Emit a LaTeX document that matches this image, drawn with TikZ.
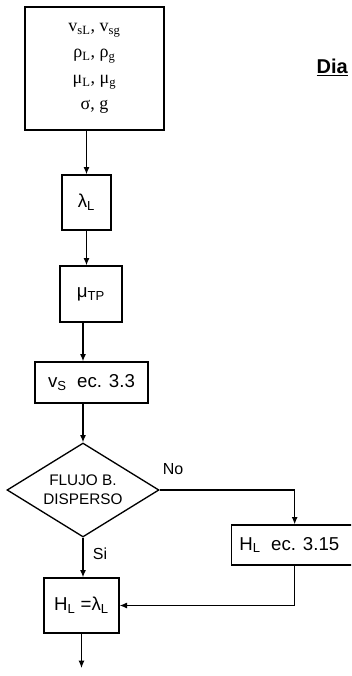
\documentclass[tikz,border=0pt]{standalone}
\usepackage{fontspec}
\setmainfont{Liberation Sans}
\newfontfamily\timesgr{Liberation Serif}
\usetikzlibrary{arrows.meta,positioning,shapes.geometric}

\begin{document}
\begin{tikzpicture}[
  x=0.75pt,y=-0.75pt,
  >={Latex[length=5.5pt,width=4.5pt]},
  line width=0.9pt,
  inbox/.style={draw,line width=1pt,minimum width=104.25pt,minimum height=92.25pt,
    align=center,font=\timesgr\fontsize{13.5}{19.5}\selectfont},
  proc/.style={draw,line width=1pt,inner sep=1pt,align=center,font=\fontsize{14}{16}\selectfont},
  decision/.style={diamond,draw,line width=1pt,inner sep=0pt,aspect=1.62,
    minimum width=114pt,minimum height=70.5pt,align=center,font=\fontsize{11.5}{14}\selectfont},
  lbl/.style={font=\fontsize{12}{14}\selectfont,inner sep=1pt}
]
  \useasboundingbox (0,0) rectangle (351,676);
  \clip (0,0) rectangle (351,676);

  \node[inbox] (datos) at (94.5,68.5) {v\textsubscript{sL}, v\textsubscript{sg}\\
    ρ\textsubscript{L}, ρ\textsubscript{g}\\ μ\textsubscript{L}, μ\textsubscript{g}\\ σ, g};
  \node[proc,minimum width=36.75pt,minimum height=41.25pt] (lam) at (86.5,202.5) {λ\textsubscript{L}};
  \node[proc,minimum width=46.5pt,minimum height=42pt] (mutp) at (91,294) {μ\textsubscript{TP}};
  \node[proc,minimum width=84.75pt,minimum height=30.75pt] (vs) at (91.5,382.5) {v\textsubscript{S}~ ec. 3.3};
  \node[decision] (flujo) at (83,490) {FLUJO B.\\DISPERSO};
  \node[proc,minimum width=94.5pt,minimum height=30pt,anchor=west] (hec) at (231,545) {H\textsubscript{L}~ ec. 3.15\hspace{8pt}};
  \node[proc,minimum width=56.25pt,minimum height=41.25pt] (hl) at (81.5,605.5) {H\textsubscript{L} =λ\textsubscript{L}};
  \coordinate (fin) at (81.5,668);

  \node[font=\bfseries\fontsize{15}{17}\selectfont,anchor=base west,inner sep=0pt] (titulo) at (316,73) {\underline{Dia}};

  \draw[->] (datos.south -| lam.north) -- (lam.north);
  \draw[->] (lam.south) -- (lam.south |- mutp.north);
  \draw[->] (mutp.south -| flujo.north) -- (vs.north -| flujo.north);
  \draw[->] (vs.south -| flujo.north) -- (flujo.north);
  \draw[->] (flujo.south) -- node[lbl,right=6pt,pos=0.4] (si) {Si} (flujo.south |- hl.north);
  \draw[->] (flujo.east) node[lbl,above right=10pt and 1pt] (no) {No} -| (hec.north);
  \draw[->] (hec.south) |- (hl.east);
  \draw[->] (hl.south) -- (fin);
\end{tikzpicture}
\end{document}
